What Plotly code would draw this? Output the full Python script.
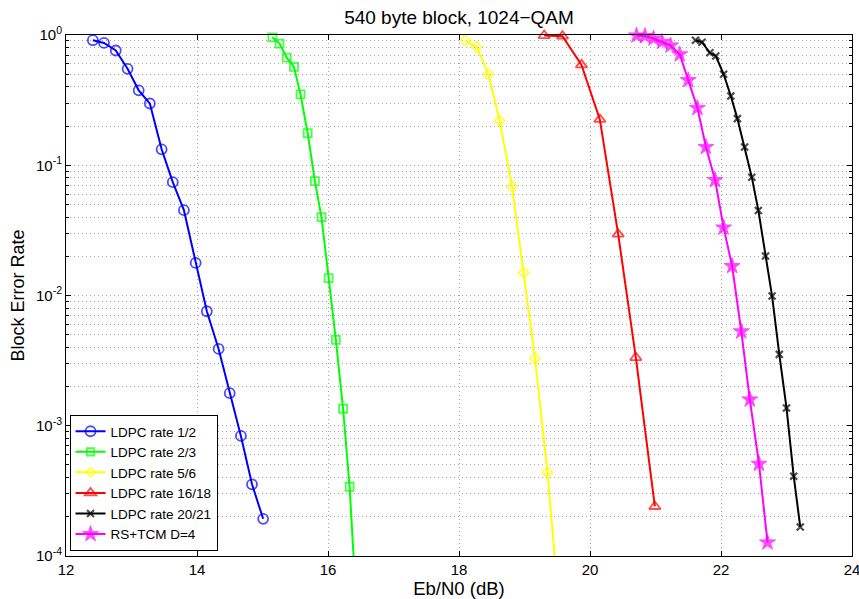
import plotly.graph_objects as go

# ---- data ----
x_r12 = [12.41, 12.58, 12.76, 12.94, 13.11, 13.28, 13.46, 13.63, 13.80, 13.98, 14.15, 14.33, 14.50, 14.67, 14.84, 15.01]
y_r12 = [0.912, 0.869, 0.760, 0.550, 0.376, 0.298, 0.1325, 0.0742, 0.0452, 0.0178, 0.00757, 0.00389, 0.00178, 0.000835, 0.000355, 0.000193]

x_r23 = [15.15, 15.26, 15.37, 15.48, 15.58, 15.69, 15.80, 15.90, 16.01, 16.12, 16.23, 16.33, 16.44]
y_r23 = [0.96, 0.86, 0.67, 0.57, 0.35, 0.176, 0.0756, 0.040, 0.0136, 0.00456, 0.00135, 0.00034, 0.000036]

x_r56 = [18.09, 18.27, 18.45, 18.62, 18.81, 18.99, 19.16, 19.35, 19.53]
y_r56 = [0.91, 0.81, 0.50, 0.22, 0.0686, 0.0150, 0.00328, 0.00044, 0.000039]

x_r1618 = [19.30, 19.58, 19.87, 20.15, 20.43, 20.70, 20.99]
y_r1618 = [0.99, 0.98, 0.59, 0.225, 0.0296, 0.00334, 0.00024]

x_r2021 = [21.61, 21.71, 21.83, 21.92, 22.04, 22.15, 22.25, 22.36, 22.47, 22.57, 22.68, 22.78, 22.89, 23.00, 23.11, 23.21]
y_r2021 = [0.91, 0.88, 0.73, 0.69, 0.50, 0.34, 0.228, 0.138, 0.081, 0.045, 0.0201, 0.0099, 0.00353, 0.00137, 0.00041, 0.000167]

x_rs = [20.71, 20.84, 20.97, 21.10, 21.23, 21.37, 21.50, 21.64, 21.77, 21.91, 22.04, 22.17, 22.31, 22.44, 22.58, 22.71]
y_rs = [0.99, 0.98, 0.94, 0.885, 0.83, 0.71, 0.45, 0.275, 0.138, 0.077, 0.0332, 0.0168, 0.0053, 0.00159, 0.00051, 0.000127]

names = ["LDPC rate 1/2", "LDPC rate 2/3", "LDPC rate 5/6", "LDPC rate 16/18", "LDPC rate 20/21", "RS+TCM D=4"]
x_ticks = [12, 14, 16, 18, 20, 22, 24]
y_tick_exps = [0, -1, -2, -3, -4]

series = [(x_r12, y_r12), (x_r23, y_r23), (x_r56, y_r56), (x_r1618, y_r1618), (x_r2021, y_r2021), (x_rs, y_rs)]
colors = ["#0000FF", "#00FF00", "#FFFF00", "#FF0000", "#000000", "#FF00FF"]
symbols = ["circle-open", "square-open", "diamond-open", "triangle-up-open", "x-thin-open", "star"]
msizes = [10, 8, 8, 10, 7, 12]
mlw = [1.8, 1.8, 1.8, 1.8, 2.2, 1]

fig = go.Figure()
for (xs, ys), nm, c, s, ms, lw in zip(series, names, colors, symbols, msizes, mlw):
    sizes = [ms if y >= 1e-4 else 0 for y in ys]
    fig.add_trace(go.Scatter(
        x=xs, y=ys, name=nm, mode="lines+markers",
        line=dict(color=c, width=2),
        marker=dict(symbol=s, size=sizes, color=c, line=dict(color=c, width=lw)),
        cliponaxis=False,
    ))

minor_vals = [m * 10 ** e for e in range(-4, 0) for m in range(2, 10)]
grid_c = "#a6a6a6"
gdash = "1px,3px"
font_fam = "Liberation Sans, Arial, sans-serif"

W, H = 859, 599
L, R, T, B = 65.5, 6.5, 34.5, 43
fig.update_layout(
    width=W, height=H,
    margin=dict(l=L, r=R, t=T, b=B),
    paper_bgcolor="white", plot_bgcolor="white",
    font=dict(family=font_fam, color="black", size=13),
    title=dict(text="540 byte block, 1024\u2212QAM", x=(L + W - R) / 2 / W, xanchor="center",
               y=1 - 17 / H, yanchor="middle", font=dict(size=19)),
    showlegend=True,
    legend=dict(x=0.0045, y=0.0096, xanchor="left", yanchor="bottom",
                bgcolor="white", bordercolor="black", borderwidth=1,
                font=dict(size=13.5, family=font_fam), tracegroupgap=0),
)
fig.update_xaxes(
    range=[12, 24], tickvals=x_ticks, ticktext=[str(v) for v in x_ticks],
    showline=True, linecolor="black", linewidth=1, mirror="allticks",
    ticks="inside", ticklen=5, tickcolor="black",
    showgrid=True, gridcolor=grid_c, griddash=gdash, gridwidth=1, zeroline=False,
    title=dict(text="Eb/N0 (dB)", font=dict(size=18.5), standoff=1),
    tickfont=dict(size=15), automargin=False, ticklabeloverflow="allow",
)
fig.update_yaxes(
    type="log", range=[-4, 0],
    tickvals=[10 ** e for e in y_tick_exps],
    ticktext=["10<sup>%d</sup>" % e for e in y_tick_exps],
    showline=True, linecolor="black", linewidth=1, mirror="allticks",
    ticks="inside", ticklen=5, tickcolor="black",
    showgrid=True, gridcolor=grid_c, griddash=gdash, gridwidth=1, zeroline=False,
    minor=dict(tickvals=minor_vals, ticks="inside", ticklen=3, tickcolor="black",
               showgrid=True, gridcolor=grid_c, griddash=gdash, gridwidth=1),
    title=dict(text="Block Error Rate", font=dict(size=18), standoff=6),
    tickfont=dict(size=15), automargin=False, ticklabeloverflow="allow",
)

fig.write_html(
    "out.html",
    config={"displayModeBar": False},
    post_script="document.body.style.margin='0';document.body.style.overflow='hidden';",
)
